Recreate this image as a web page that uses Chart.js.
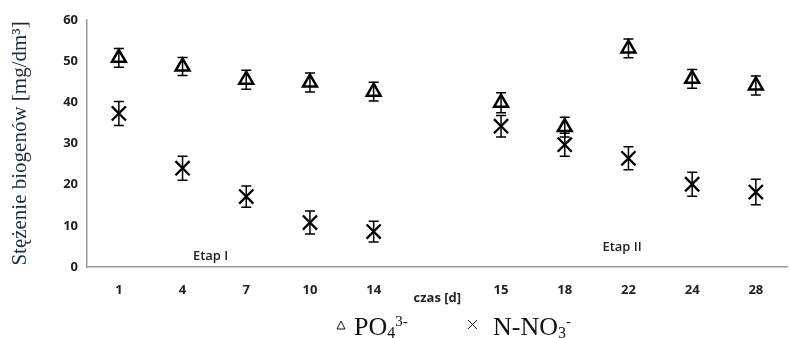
<!DOCTYPE html>
<html>
<head>
<meta charset="utf-8">
<script src="https://cdn.jsdelivr.net/npm/chart.js@4.4.0/dist/chart.umd.min.js"></script>
<style>
  body { margin: 0; background: #fff; overflow: hidden; }
  #wrap { width: 791px; height: 338px; overflow: hidden; }
</style>
</head>
<body>
<div id="wrap"><canvas id="myChart" width="800" height="338"></canvas></div>
<script>
// dane (pusta kategoria = przerwa miedzy etapami)
const dni = ['1', '4', '7', '10', '14', '', '15', '18', '22', '24', '28'];
const po4 = [50.8, 48.7, 45.5, 44.8, 42.6, null, 39.9, 34.0, 53.1, 45.7, 44.1];
const po4Blad = [2.3, 2.2, 2.3, 2.3, 2.3, null, 2.4, 2.4, 2.3, 2.3, 2.3];
const no3 = [37.3, 24.0, 17.1, 10.8, 8.6, null, 34.2, 29.7, 26.4, 20.1, 18.2];
const no3Blad = [2.9, 2.9, 2.6, 2.8, 2.5, null, 2.6, 2.8, 2.8, 2.9, 3.1];
const yTicks = [0, 10, 20, 30, 40, 50, 60];
const etapy = ['Etap I', 'Etap II'];

const bledy = [po4Blad, no3Blad];

// slupki bledow
const errorBars = {
  id: 'errorBars',
  afterDatasetsDraw(chart) {
    const ctx = chart.ctx;
    const y = chart.scales.y;
    ctx.save();
    ctx.strokeStyle = '#000';
    ctx.lineWidth = 1.5;
    chart.data.datasets.forEach((ds, i) => {
      const meta = chart.getDatasetMeta(i);
      meta.data.forEach((pt, j) => {
        const v = ds.data[j];
        const e = bledy[i][j];
        if (v == null || e == null) return;
        const top = y.getPixelForValue(v + e);
        const bot = y.getPixelForValue(v - e);
        ctx.beginPath();
        ctx.moveTo(pt.x, top); ctx.lineTo(pt.x, bot);
        ctx.moveTo(pt.x - 5, top); ctx.lineTo(pt.x + 5, top);
        ctx.moveTo(pt.x - 5, bot); ctx.lineTo(pt.x + 5, bot);
        ctx.stroke();
      });
    });
    ctx.restore();
  }
};

// napisy Etap I / Etap II
const etapLabels = {
  id: 'etapLabels',
  afterDraw(chart) {
    const ctx = chart.ctx;
    const x = chart.scales.x, y = chart.scales.y;
    const poz = [[1.44, 2.7], [7.9, 4.9]];
    ctx.save();
    ctx.font = '600 13px "Open Sans"';
    ctx.fillStyle = '#222';
    ctx.textAlign = 'center';
    ctx.textBaseline = 'middle';
    etapy.forEach((t, i) => {
      ctx.fillText(t, x.getPixelForValue(poz[i][0]), y.getPixelForValue(poz[i][1]));
    });
    ctx.restore();
  }
};

// legenda z indeksami
function drawParts(ctx, parts, x, base) {
  parts.forEach(p => {
    ctx.font = p.size + 'px "Liberation Serif"';
    ctx.fillText(p.t, x, base + p.dy);
    x += ctx.measureText(p.t).width;
  });
}

const legenda = {
  id: 'legenda',
  afterDraw(chart) {
    const ctx = chart.ctx;
    ctx.save();
    ctx.fillStyle = '#111';
    ctx.strokeStyle = '#111';
    ctx.textBaseline = 'alphabetic';
    // trojkat
    ctx.lineWidth = 1;
    ctx.beginPath();
    ctx.moveTo(341, 321); ctx.lineTo(345, 329); ctx.lineTo(337, 329); ctx.closePath();
    ctx.stroke();
    drawParts(ctx, [
      { t: 'PO', size: 26, dy: 0 },
      { t: '4', size: 16, dy: 3 },
      { t: '3-', size: 15, dy: -9 }
    ], 354, 335);
    // krzyzyk
    ctx.beginPath();
    ctx.moveTo(468, 320); ctx.lineTo(477, 329);
    ctx.moveTo(477, 320); ctx.lineTo(468, 329);
    ctx.stroke();
    drawParts(ctx, [
      { t: 'N-NO', size: 26, dy: 0 },
      { t: '3', size: 16, dy: 3 },
      { t: '-', size: 15, dy: -9 }
    ], 493, 335);
    ctx.restore();
  }
};

const tickFont = { family: 'Open Sans', size: 13, weight: 'bold' };

const chart = new Chart(document.getElementById('myChart'), {
  type: 'line',
  data: {
    labels: dni,
    datasets: [
      {
        label: 'PO₄³⁻',
        data: po4,
        showLine: false,
        pointStyle: 'triangle',
        pointRadius: 8,
        pointBorderWidth: 2.5,
        pointBorderColor: '#000',
        pointBackgroundColor: 'rgba(0,0,0,0)'
      },
      {
        label: 'N-NO₃⁻',
        data: no3,
        showLine: false,
        pointStyle: 'crossRot',
        pointRadius: 10,
        pointBorderWidth: 2.3,
        pointBorderColor: '#000'
      }
    ]
  },
  options: {
    responsive: false,
    animation: false,
    layout: { padding: { top: 20, right: 1, bottom: 30, left: 0 } },
    plugins: {
      legend: { display: false },
      tooltip: { enabled: false }
    },
    scales: {
      x: {
        offset: true,
        grid: { display: false, drawTicks: false },
        border: { color: '#9a9a9a', width: 1.5 },
        ticks: { font: tickFont, color: '#222', padding: 15 },
        title: {
          display: true,
          text: 'czas [d]',
          font: { family: 'Open Sans', size: 13, weight: 'bold' },
          color: '#222',
          padding: { top: 0, bottom: 2 }
        },
        afterFit(scale) { scale.height = 41; }
      },
      y: {
        min: 0,
        max: 60,
        afterBuildTicks(scale) { scale.ticks = yTicks.map(v => ({ value: v })); },
        grid: { display: false, drawTicks: false },
        border: { color: '#9a9a9a', width: 1.5 },
        ticks: { font: tickFont, color: '#222', padding: 9 },
        title: {
          display: true,
          text: 'Stężenie biogenów [mg/dm³]',
          font: { family: 'Liberation Serif', size: 21 },
          color: '#1f2a44',
          padding: { top: 8, bottom: 0 }
        },
        afterFit(scale) { scale.width = 87; }
      }
    }
  },
  plugins: [errorBars, etapLabels, legenda]
});
</script>
</body>
</html>
